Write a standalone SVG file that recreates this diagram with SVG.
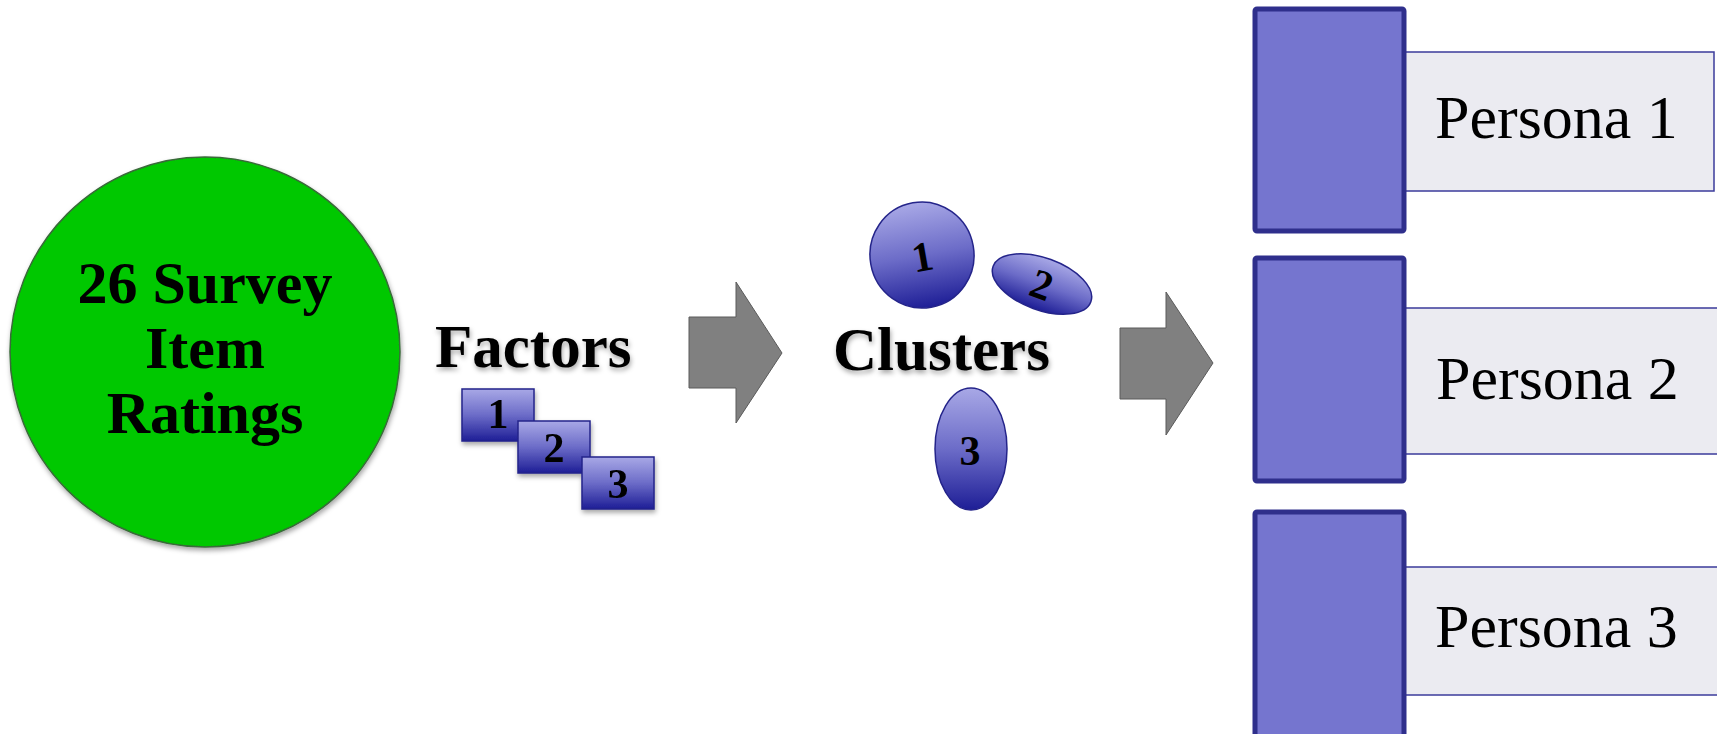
<svg xmlns="http://www.w3.org/2000/svg" width="1717" height="734" viewBox="0 0 1717 734">
<style>
.bold{font-family:"Liberation Serif","Times New Roman",serif;font-weight:bold;fill:#000}
.num{font-family:"Liberation Serif","Times New Roman",serif;font-weight:bold;font-size:42px;fill:#000;text-anchor:middle}
.persona{font-family:"Liberation Serif","Times New Roman",serif;font-size:62px;fill:#000}
.sq{fill:#7575cf;stroke:#2f2f8c;stroke-width:5}
.lbl{fill:#ebebf1;stroke:#3b3b9b;stroke-width:1.5}
.blue{fill:url(#bg);stroke:#24248a;stroke-width:1.5}
.arrow{fill:#808080;stroke:#5a5a5a;stroke-width:1}
</style>
<defs>
<linearGradient id="bg" x1="0" y1="0" x2="0" y2="1">
<stop offset="0" stop-color="#a8a8e6"/>
<stop offset="0.5" stop-color="#6c6cc8"/>
<stop offset="1" stop-color="#1e1e96"/>
</linearGradient>
<filter id="sh" x="-20%" y="-20%" width="140%" height="140%">
<feDropShadow dx="1" dy="3" stdDeviation="2.5" flood-color="#000" flood-opacity="0.35"/>
</filter>
</defs>
<g id="survey">
<circle cx="205" cy="352" r="195" fill="#00c800" stroke="#3a6a3a" stroke-width="1.5" filter="url(#sh)"/>
<text class="bold" font-size="60" text-anchor="middle" x="205" y="303">26 Survey</text>
<text class="bold" font-size="60" text-anchor="middle" x="205" y="368">Item</text>
<text class="bold" font-size="60" text-anchor="middle" x="205" y="433">Ratings</text>
</g>
<g id="factors">
<text class="bold" font-size="61" x="435" y="367" filter="url(#sh)">Factors</text>
<g filter="url(#sh)">
<rect class="blue" x="462" y="389" width="72" height="52"/>
<text class="num" x="498" y="428">1</text>
<rect class="blue" x="518" y="421" width="72" height="52"/>
<text class="num" x="554" y="462">2</text>
<rect class="blue" x="582" y="457" width="72" height="52"/>
<text class="num" x="618" y="498">3</text>
</g>
</g>
<g id="clusters">
<text class="bold" font-size="61" x="833" y="370" filter="url(#sh)">Clusters</text>
<g transform="rotate(-10 922 255)">
<ellipse class="blue" cx="922" cy="255" rx="52" ry="53"/>
<text class="num" font-size="44" x="922" y="271">1</text>
</g>
<g transform="rotate(20 1042 284)">
<ellipse class="blue" cx="1042" cy="284" rx="52" ry="26"/>
<text class="num" font-size="44" x="1042" y="299">2</text>
</g>
<ellipse class="blue" cx="971" cy="449" rx="36" ry="61"/>
<text class="num" font-size="44" x="970" y="465">3</text>
</g>
<g id="persona1">
<rect class="lbl" x="1405" y="52" width="309" height="139"/>
<rect class="sq" x="1255" y="9" width="149" height="222" rx="2"/>
<text class="persona" x="1435" y="138">Persona 1</text>
</g>
<g id="persona2">
<rect class="lbl" x="1405" y="308" width="320" height="146"/>
<rect class="sq" x="1255" y="258" width="149" height="223" rx="2"/>
<text class="persona" x="1436" y="399">Persona 2</text>
</g>
<g id="persona3">
<rect class="lbl" x="1405" y="567" width="320" height="128"/>
<rect class="sq" x="1255" y="512" width="149" height="230" rx="2"/>
<text class="persona" x="1435" y="647">Persona 3</text>
</g>
<g id="connectors">
<path class="arrow" d="M689,317 H736 V282 L782,353 L736,423 V388 H689 Z"/>
<path class="arrow" d="M1120,328 H1166 V292 L1213,363 L1166,435 V399 H1120 Z"/>
</g>
</svg>
